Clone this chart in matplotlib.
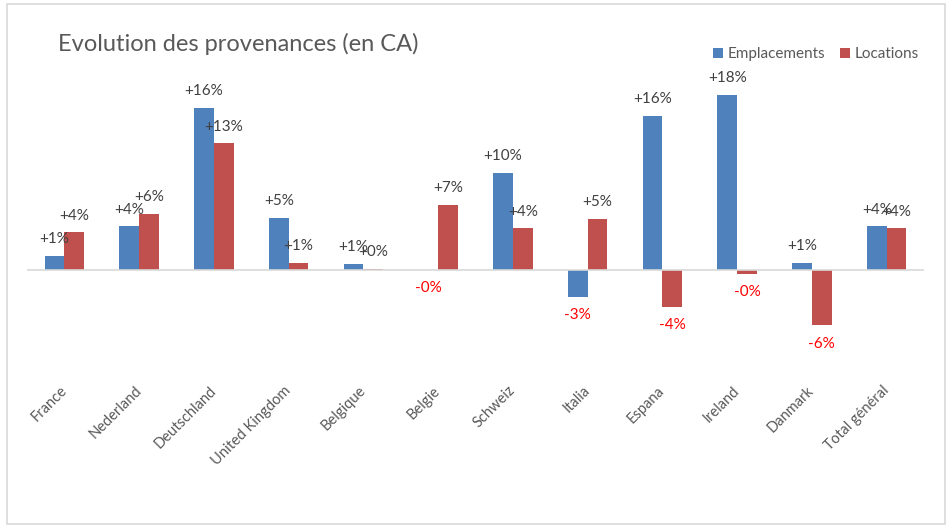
import matplotlib
matplotlib.use('Agg')
import matplotlib.pyplot as plt
import numpy as np
from matplotlib.patches import Rectangle

categories = ['France', 'Nederland', 'Deutschland', 'United Kingdom', 'Belgique',
              'Belgie', 'Schweiz', 'Italia', 'Espana', 'Ireland', 'Danmark',
              'Total général']
emplacements = [0.014, 0.044, 0.164, 0.053, 0.006, -0.0003, 0.098, -0.027,
                0.156, 0.177, 0.0075, 0.044]
locations = [0.038, 0.057, 0.128, 0.007, 0.0013, 0.066, 0.042, 0.052,
             -0.037, -0.0036, -0.056, 0.042]
series_names = ['Emplacements', 'Locations']
colors = ['#4F81BD', '#C0504D']

plt.rcParams['font.family'] = ['Lato', 'DejaVu Sans']

W, H = 947, 526
fig = plt.figure(figsize=(W / 100, H / 100), dpi=100)
fig.patch.set_facecolor('white')

def fx(px):
    return px / W

def fy(py):
    return 1 - py / H

ax = fig.add_axes([fx(27), fy(369), fx(924) - fx(27), fy(72) - fy(369)])
ax.set_xlim(-0.5, len(categories) - 0.5)
ax.set_ylim(-0.10, 0.20)

x = np.arange(len(categories))
bw = 0.265
for i, (vals, col, name) in enumerate(zip([emplacements, locations], colors, series_names)):
    xs = x + (i - 0.5) * bw
    ax.bar(xs, vals, width=bw, color=col, label=name, zorder=3)
    for xi, v in zip(xs, vals):
        txt = f"{v * 100:+.0f}%"
        if v >= 0:
            ax.annotate(txt, (xi, v), xytext=(0, 7), textcoords='offset points',
                        ha='center', va='bottom', fontsize=11, color='#404040',
                        annotation_clip=False, zorder=5)
        else:
            ax.annotate(txt, (xi, v), xytext=(0, -8), textcoords='offset points',
                        ha='center', va='top', fontsize=11, color='#FF0000',
                        annotation_clip=False, zorder=5)

ax.axhline(0, color='#D9D9D9', lw=1.2, zorder=4)

for s in ax.spines.values():
    s.set_visible(False)
ax.set_yticks([])
ax.set_xticks(x)
ax.set_xticklabels(categories, rotation=45, ha='right', va='center',
                   rotation_mode='anchor', fontsize=10.5, color='#595959')
ax.tick_params(axis='x', length=0, pad=14)

fig.text(fx(58), fy(44), 'Evolution des provenances (en CA)', fontsize=17,
         color='#595959', va='center', ha='left')

fig.legend(loc='center right', bbox_to_anchor=(fx(919), fy(54)), ncol=2,
           frameon=False, fontsize=11, handlelength=0.65, handleheight=0.65,
           handletextpad=0.3, columnspacing=1.0, labelcolor='#595959',
           borderaxespad=0, borderpad=0)

fig.patches.append(Rectangle((fx(7), fy(524)), fx(945) - fx(7), fy(4) - fy(524),
                             transform=fig.transFigure, fill=False,
                             ec='#D9D9D9', lw=1.2))

fig.savefig('out.png', dpi=100)
